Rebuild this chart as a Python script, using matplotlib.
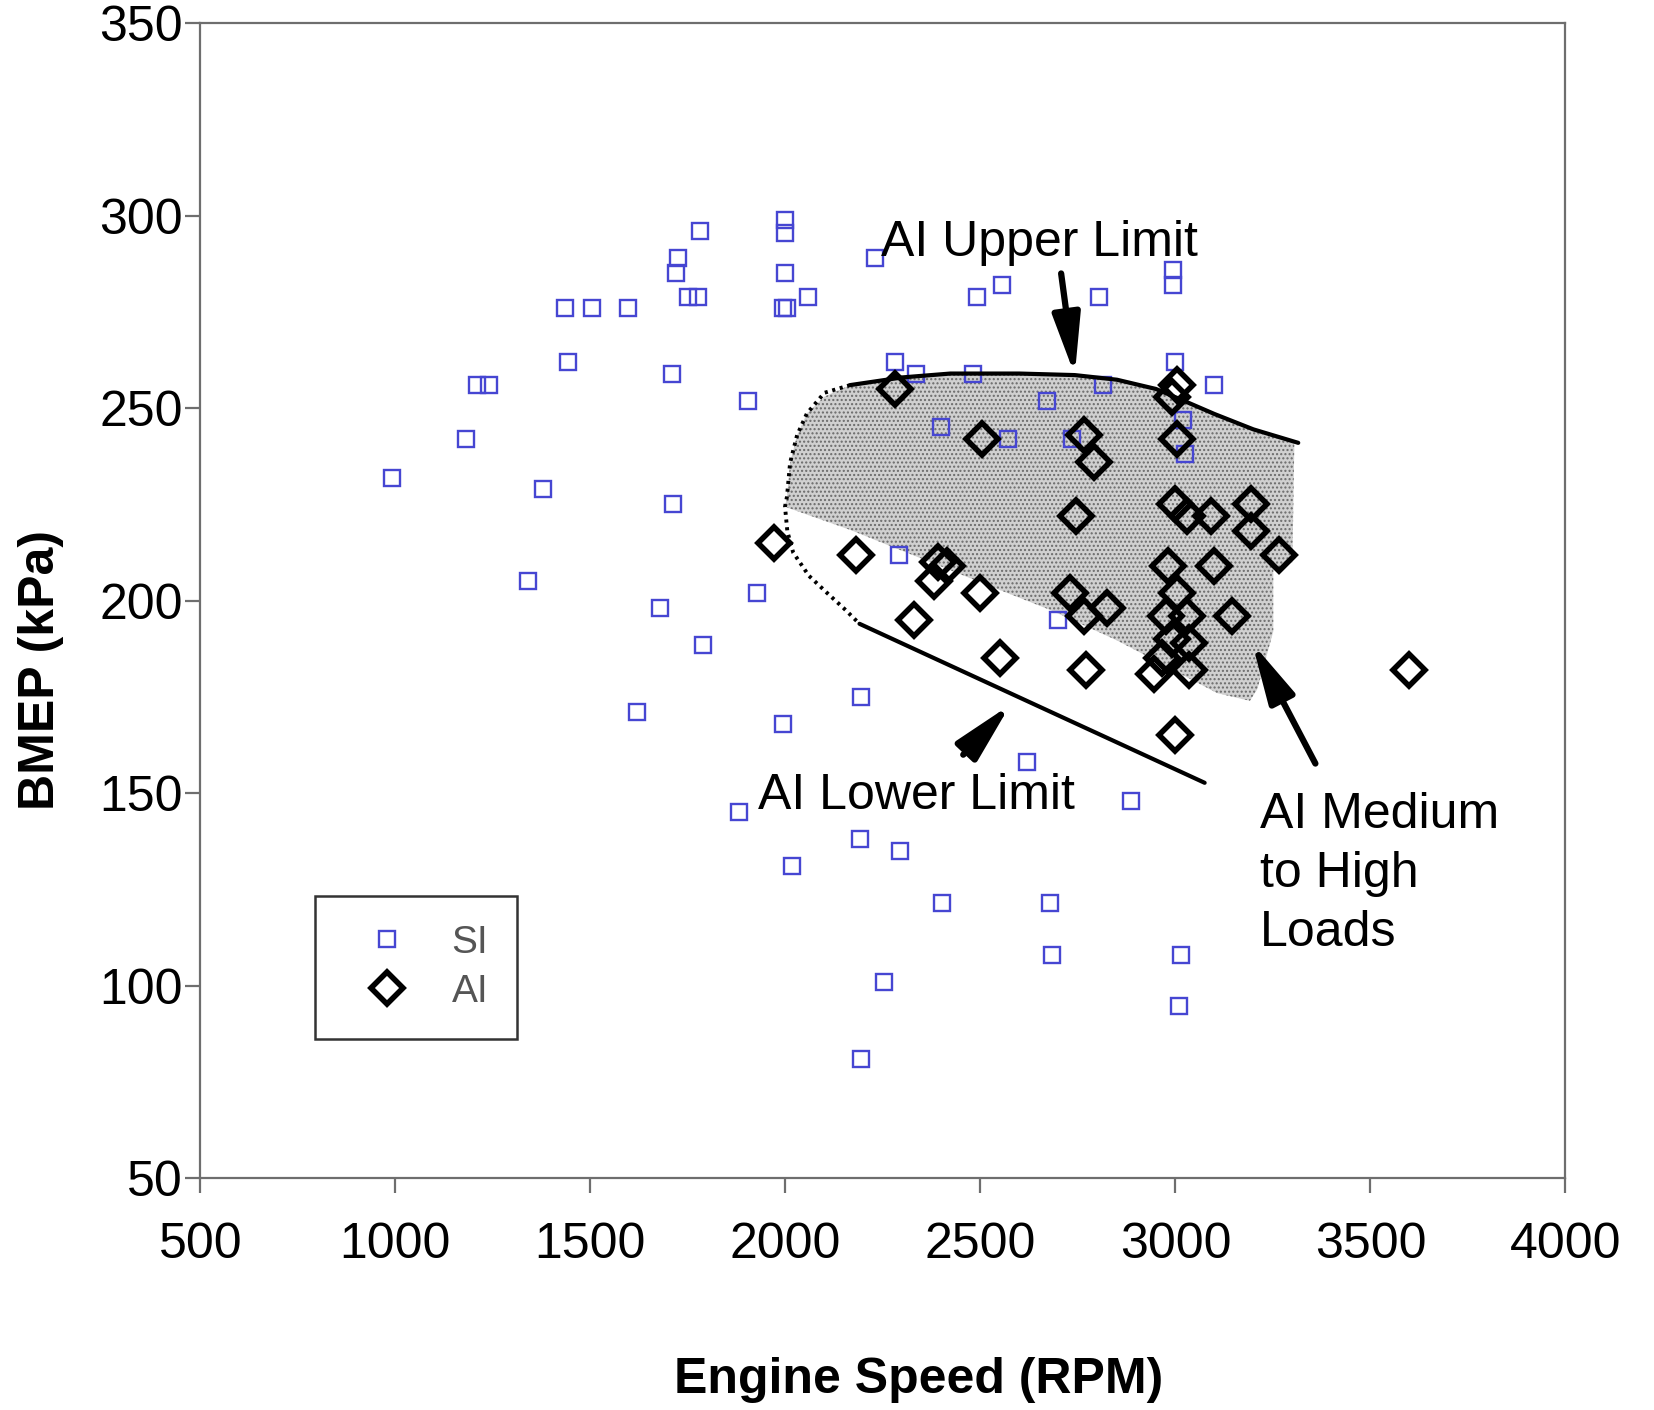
import matplotlib
matplotlib.use("Agg")
import matplotlib.pyplot as plt

plt.rcParams['font.family'] = ['Liberation Sans', 'DejaVu Sans']
plt.rcParams['hatch.linewidth'] = 1.0

# ---- data ----
si_rpm = [990, 1180, 1210, 1240, 1340, 1379, 1435, 1443, 1504, 1597, 1620, 1679,
          1709, 1712, 1725, 1720, 1750, 1775, 1781, 1789, 1904, 1927, 1880,
          1999, 1999, 1999, 1994, 2004, 2058, 1995, 2017, 2190, 2195, 2195,
          2230, 2254, 2280, 2335, 2293, 2290, 2402, 2400, 2490, 2480, 2555,
          2570, 2620, 2670, 2678, 2683, 2700, 2735, 2805, 2815, 2886, 2995,
          2995, 3000, 3100, 3014, 3009, 3020, 3025]
si_bmep = [232, 242, 256, 256, 205, 229, 276, 262, 276, 276, 171, 198,
           259, 225, 289, 285, 279, 279, 296, 188.5, 252, 202, 145,
           299, 295.5, 285, 276, 276, 279, 168, 131, 138, 175, 81,
           289, 101, 262, 259, 135, 212, 121.5, 245, 279, 259, 282,
           242, 158, 252, 121.5, 108, 195, 242, 279, 256, 148, 286,
           282, 262, 256, 108, 94.6, 247, 238]

ai_rpm = [2280, 1970, 2180, 2330, 2380, 2390, 2415, 2505, 2500, 2550, 2745,
          2765, 2790, 2730, 2765, 2825, 2770, 2990, 3005, 3005, 3000, 3030,
          3090, 3195, 3195, 3265, 2980, 3100, 3005, 2975, 3030, 3145, 2990,
          3035, 2965, 3035, 2945, 3000, 3600]
ai_bmep = [255, 215, 212, 195, 205, 210, 209, 242, 202, 185, 222,
           243, 236, 202, 196, 198, 182, 253, 256, 242, 225, 222,
           222, 225, 218, 212, 209, 209, 202, 196, 196, 196, 190,
           189, 185, 182, 181, 165, 182]

# shaded "AI medium to high loads" region
shade_rpm = [2166, 2300, 2423, 2600, 2742, 2850, 2950, 3020, 3100, 3200, 3305, 3300,
             3251, 3251, 3210, 3191, 3107, 2850, 2679, 2507, 2166, 1999, 2004,
             2012, 2030, 2055, 2100]
shade_bmep = [256, 258, 259, 259, 258.6, 257.4, 255, 252, 248.5, 244.5, 241, 210,
              208, 192, 177, 174, 176, 189.7, 197.6, 204.5, 218.4, 224.4, 227,
              235.8, 243, 248.6, 253]

upper_rpm = [2166, 2300, 2423, 2600, 2742, 2850, 2950, 3020, 3100, 3200, 3315]
upper_bmep = [256, 258, 259, 259, 258.6, 257.4, 255, 252, 248.5, 244.5, 241]

dotted_rpm = [2166, 2100, 2055, 2030, 2012, 2004, 1999, 2005, 2020, 2060, 2107, 2150, 2190]
dotted_bmep = [256, 254, 248.6, 243, 235.8, 227, 224.4, 218, 212.5, 206.5, 202, 198, 194]

lower_rpm = [2190, 3075]
lower_bmep = [194, 152.7]

x_ticks = [500, 1000, 1500, 2000, 2500, 3000, 3500, 4000]
y_ticks = [50, 100, 150, 200, 250, 300, 350]

# ---- figure ----
W, H = 1654, 1410
fig = plt.figure(figsize=(W / 100, H / 100), dpi=100)
ax = fig.add_axes([200.4 / W, 1 - 1178.2 / H, 1365 / W, 1155 / H])

ax.fill(shade_rpm, shade_bmep, facecolor='#d0d0d0', edgecolor='#6a6a6a',
        linewidth=0, hatch='....', zorder=1)
ax.plot(upper_rpm, upper_bmep, color='black', lw=3, zorder=4, solid_capstyle='round')
ax.plot(lower_rpm, lower_bmep, color='black', lw=3, zorder=4, solid_capstyle='round')
ax.plot(dotted_rpm, dotted_bmep, color='black', lw=2.8, linestyle=(0, (0.8, 1.2)), zorder=4)

ax.plot(si_rpm, si_bmep, linestyle='none', marker='s', markersize=12,
        markerfacecolor='none', markeredgecolor='#4646d2', markeredgewidth=1.7,
        zorder=3, label='SI')
ax.plot(ai_rpm, ai_bmep, linestyle='none', marker='D', markersize=16,
        markerfacecolor='none', markeredgecolor='black', markeredgewidth=4,
        zorder=5, label='AI')

arrow = dict(arrowstyle='-|>,head_length=1.3,head_width=0.3', mutation_scale=28,
             lw=4.5, color='black', shrinkA=0, shrinkB=0)
ax.annotate('', xy=(2742, 258.6), xytext=(2707, 285), arrowprops=arrow, zorder=6)
ax.annotate('', xy=(2577, 173), xytext=(2456, 160), arrowprops=arrow, zorder=6)
ax.annotate('', xy=(3197, 189), xytext=(3359, 157.7), arrowprops=arrow, zorder=6)

ax.text(2651, 289.5, 'AI Upper Limit', fontsize=36, ha='center', va='baseline', zorder=7)
ax.text(2337, 146, 'AI Lower Limit', fontsize=36, ha='center', va='baseline', zorder=7)
ax.text(3217, 150.4, 'AI Medium\nto High\nLoads', fontsize=36, ha='left', va='top',
        linespacing=1.36, zorder=7)

ax.set_xlim(500, 4000)
ax.set_ylim(50, 350)
ax.set_xticks(x_ticks)
ax.set_yticks(y_ticks)
ax.set_xticklabels([str(v) for v in x_ticks])
ax.set_yticklabels([str(v) for v in y_ticks])

for s in ax.spines.values():
    s.set_color('#6e6e6e')
    s.set_linewidth(1.6)
ax.tick_params(direction='out', length=10.5, width=1.6, color='#6e6e6e', labelsize=36)
ax.tick_params(axis='x', pad=21)
ax.tick_params(axis='y', pad=2)

ax.set_xlabel('Engine Speed (RPM)', fontsize=36, fontweight='bold')
ax.set_ylabel('BMEP (kPa)', fontsize=36, fontweight='bold')
ax.xaxis.label.set_va('center')
ax.yaxis.label.set_va('center')
ax.xaxis.set_label_coords(0.526, -0.175)
ax.yaxis.set_label_coords(-0.117, 0.44)

leg = ax.legend(loc='upper left', bbox_to_anchor=(0.0842, 0.2444), borderaxespad=0,
                fontsize=28, frameon=True, fancybox=False, numpoints=1,
                borderpad=0.75, labelspacing=0.32, handlelength=2.2, handletextpad=0.55)
leg.get_frame().set_edgecolor('black')
leg.get_frame().set_linewidth(1.8)
for t in leg.get_texts():
    t.set_color('#555555')

fig.savefig('out.png', dpi=100)
